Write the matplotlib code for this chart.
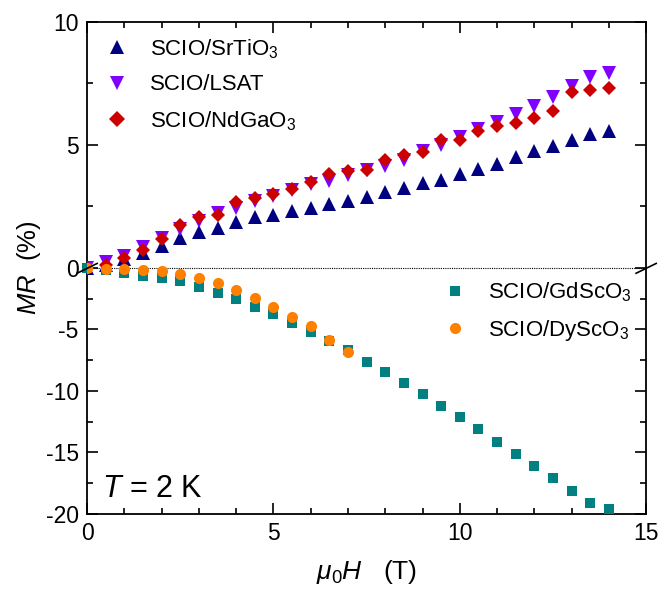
import numpy as np
import matplotlib
matplotlib.use('Agg')
import matplotlib.pyplot as plt
from matplotlib.ticker import MultipleLocator, FixedLocator

plt.rcParams['font.family'] = ['Liberation Sans', 'DejaVu Sans']
plt.rcParams['mathtext.fontset'] = 'custom'
plt.rcParams['mathtext.rm'] = 'Liberation Sans'
plt.rcParams['mathtext.it'] = 'Liberation Sans:italic'
plt.rcParams['axes.unicode_minus'] = False

# magnetic field (T)
field = [0, 0.5, 1, 1.5, 2, 2.5, 3, 3.5, 4, 4.5, 5, 5.5, 6, 6.5, 7,
         7.5, 8, 8.5, 9, 9.5, 10, 10.5, 11, 11.5, 12, 12.5, 13, 13.5, 14]
field_dy = field[:15]

# MR (%)
mr_srtio3 = [0, 0.1, 0.35, 0.62, 0.9, 1.22, 1.44, 1.63, 1.85, 2.05, 2.15, 2.33, 2.44, 2.6, 2.73,
             2.9, 3.07, 3.24, 3.44, 3.58, 3.82, 4.03, 4.23, 4.5, 4.75, 4.96, 5.21, 5.46, 5.55]
mr_lsat = [0, 0.22, 0.49, 0.83, 1.21, 1.58, 1.92, 2.23, 2.44, 2.73, 2.94, 3.17, 3.42, 3.55, 3.76,
           3.96, 4.16, 4.4, 4.75, 4.98, 5.32, 5.66, 5.93, 6.27, 6.57, 6.95, 7.39, 7.74, 7.93]
mr_ndgao3 = [0, 0.11, 0.42, 0.72, 1.17, 1.76, 2.08, 2.16, 2.67, 2.84, 3.01, 3.21, 3.51, 3.82, 3.92,
             3.99, 4.37, 4.57, 4.71, 5.21, 5.21, 5.55, 5.76, 5.87, 6.11, 6.38, 7.16, 7.22, 7.33]
mr_gdsco3 = [0, -0.15, -0.38, -0.65, -0.84, -1.1, -1.57, -2.08, -2.54, -3.16, -3.75, -4.51, -5.18, -5.91, -6.7,
             -7.62, -8.5, -9.4, -10.27, -11.22, -12.11, -13.06, -14.12, -15.15, -16.1, -17.1, -18.13, -19.13, -19.6]
mr_dysco3 = [0, -0.1, -0.1, -0.19, -0.24, -0.46, -0.8, -1.24, -1.81, -2.46, -3.21, -3.97, -4.7, -5.86, -6.86]


# negative side of the y axis is compressed by a factor 2
def fwd(y):
    y = np.asarray(y, dtype=float)
    return np.where(y >= 0, y, y / 2.0)


def inv(t):
    t = np.asarray(t, dtype=float)
    return np.where(t >= 0, t, t * 2.0)


fig = plt.figure(figsize=(6.6, 5.9), dpi=100)
ax = fig.add_axes([0.132, 0.129, 0.847, 0.834])
ax.set_yscale('function', functions=(fwd, inv))

ax.axhline(0, color='k', lw=0.8, ls=(0, (1, 1)), zorder=1)

h1, = ax.plot(field, mr_srtio3, '^', color='#000080', ms=9.5, mew=0, label='SCIO/SrTiO$_3$', zorder=3)
h2, = ax.plot(field, mr_lsat, 'v', color='#8000FF', ms=9.5, mew=0, label='SCIO/LSAT', zorder=3)
h3, = ax.plot(field, mr_ndgao3, 'D', color='#CC0000', ms=7, mew=0, label='SCIO/NdGaO$_3$', zorder=4)
h4, = ax.plot(field, mr_gdsco3, 's', color='#008080', ms=7.5, mew=0, label='SCIO/GdScO$_3$', zorder=3, clip_on=False)
h5, = ax.plot(field_dy, mr_dysco3, 'o', color='#FF8000', ms=8, mew=0, label='SCIO/DyScO$_3$', zorder=4)

ax.set_xlim(0, 15)
ax.set_ylim(-20, 10)
ax.xaxis.set_major_locator(MultipleLocator(5))
ax.xaxis.set_minor_locator(MultipleLocator(1))
ax.yaxis.set_major_locator(FixedLocator([-20, -15, -10, -5, 0, 5, 10]))
ax.yaxis.set_minor_locator(FixedLocator([-17.5, -12.5, -7.5, -2.5, 2.5, 7.5]))
ax.set_yticklabels(['-20', '-15', '-10', '-5', '0', '5', '10'])

ax.tick_params(which='both', direction='in', top=True, right=True, width=1.2, labelsize=16.5)
ax.tick_params(which='major', length=8, pad=6)
ax.tick_params(which='minor', length=4.5)
for s in ax.spines.values():
    s.set_linewidth(1.3)

ax.set_xlabel(r'$\mu_0H$   (T)', fontsize=19, labelpad=9)
ax.set_ylabel(r'$MR$  (%)', fontsize=18.5, labelpad=2)

# axis break marks at y = 0
y0 = (fwd(0) - fwd(-20)) / (fwd(10) - fwd(-20))
for xs in (0.0, 1.0):
    ax.plot([xs - 0.018, xs + 0.018], [y0 - 0.011, y0 + 0.009], color='k', lw=1.2,
            transform=ax.transAxes, clip_on=False, zorder=5)

leg1 = ax.legend(handles=[h1, h2, h3], loc='upper left', bbox_to_anchor=(0.034, 0.969),
                 frameon=False, fontsize=16, numpoints=1, handlelength=1.0, markerscale=1.1,
                 handletextpad=0.99, labelspacing=0.62, borderpad=0, borderaxespad=0)
ax.add_artist(leg1)
ax.legend(handles=[h4, h5], loc='upper left', bbox_to_anchor=(0.639, 0.474),
          frameon=False, fontsize=16, numpoints=1, handlelength=1.0,
          handletextpad=0.95, labelspacing=0.6, borderpad=0, borderaxespad=0)

ax.text(0.026, 0.035, r'$T$ = 2 K', transform=ax.transAxes, fontsize=22, ha='left', va='baseline')

fig.savefig('out.png', dpi=100)
